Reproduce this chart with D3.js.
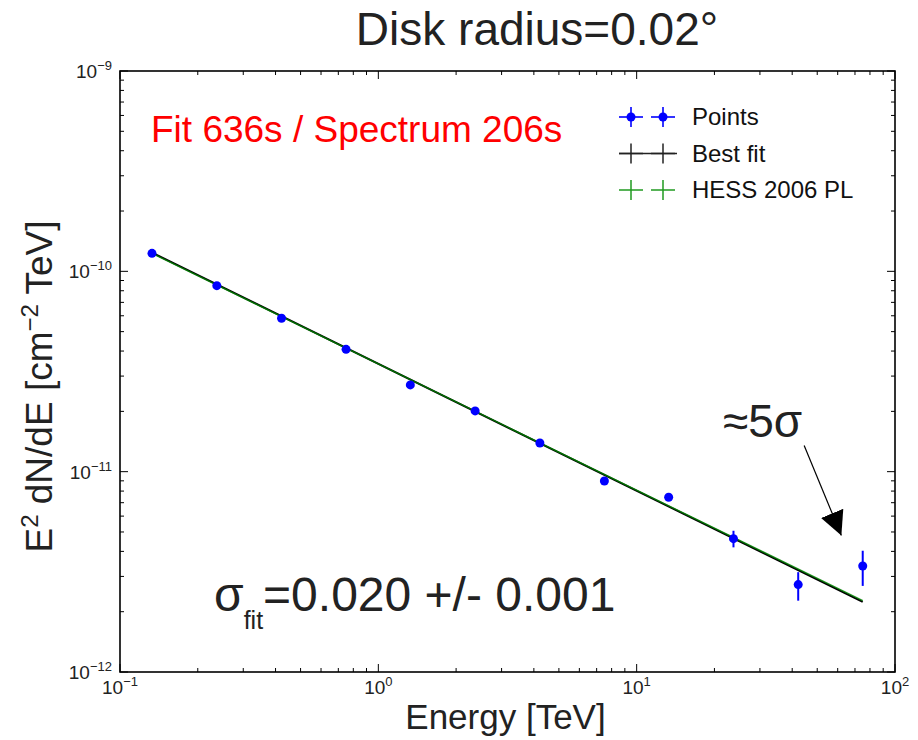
<!DOCTYPE html>
<html>
<head>
<meta charset="utf-8">
<script src="https://cdn.jsdelivr.net/npm/d3@7"></script>
<style>
  body { margin: 0; background: #fff; }
  text { font-family: "Liberation Sans", Arial, sans-serif; }
  .tick-label { font-family: "Liberation Serif", "DejaVu Serif", serif; fill: #222; }
</style>
</head>
<body>
<div id="chart"></div>
<script>
// E^2 dN/dE spectrum, disk radius 0.02 deg
const energy = [0.133, 0.237, 0.422, 0.750, 1.33, 2.37, 4.22, 7.50, 13.3, 23.7, 42.2, 75.0];
const flux = [1.23e-10, 8.48e-11, 5.83e-11, 4.08e-11, 2.71e-11, 2.01e-11, 1.39e-11, 8.98e-12, 7.45e-12, 4.63e-12, 2.73e-12, 3.38e-12];
const fluxErrLo = [1.2e-12, 0.9e-12, 0.6e-12, 0.45e-12, 0.35e-12, 0.3e-12, 0.25e-12, 0.25e-12, 0.3e-12, 0.44e-12, 0.46e-12, 0.69e-12];
const fluxErrHi = [1.2e-12, 0.9e-12, 0.6e-12, 0.45e-12, 0.35e-12, 0.3e-12, 0.25e-12, 0.25e-12, 0.3e-12, 0.44e-12, 0.42e-12, 0.65e-12];

// power-law lines (straight in log-log, so the two end points are enough)
const fitE = [0.133, 75.0];
const bestFitF = [1.24e-10, 2.24e-12];
const hessF = [1.23e-10, 2.27e-12];

const xMajor = [0.1, 1, 10, 100];
const xMajorExp = ['\u22121', '0', '1', '2'];
const yMajor = [1e-9, 1e-10, 1e-11, 1e-12];
const yMajorExp = ['\u22129', '\u221210', '\u221211', '\u221212'];

const legendLabels = ['Points', 'Best fit', 'HESS 2006 PL'];

const margin = { top: 71, right: 23, bottom: 68, left: 120 };
const W = 918, H = 740;
const width = W - margin.left - margin.right;
const height = H - margin.top - margin.bottom;

const root = d3.select('#chart').append('svg').attr('width', W).attr('height', H);
const svg = root.append('g').attr('transform', `translate(${margin.left},${margin.top})`);

const x = d3.scaleLog().domain([0.1, 100]).range([0, width]);
const y = d3.scaleLog().domain([1e-12, 1e-9]).range([height, 0]);

// minor ticks 2..9 of each decade
const minors = (dom) => {
  const out = [];
  const lo = Math.round(Math.log10(dom[0])), hi = Math.round(Math.log10(dom[1]));
  for (let e = lo; e < hi; e++) for (let k = 2; k <= 9; k++) out.push(k * Math.pow(10, e));
  return out;
};
const xMinor = minors(x.domain());
const yMinor = minors(y.domain());

const tickG = svg.append('g').attr('stroke', '#000').attr('stroke-width', 1);
// bottom & top
[[xMajor, 8], [xMinor, 4]].forEach(([vals, len]) => {
  tickG.selectAll(null).data(vals).enter().append('line')
    .attr('x1', d => x(d)).attr('x2', d => x(d)).attr('y1', height).attr('y2', height - len);
  tickG.selectAll(null).data(vals).enter().append('line')
    .attr('x1', d => x(d)).attr('x2', d => x(d)).attr('y1', 0).attr('y2', len);
});
// left & right
[[yMajor, 8], [yMinor, 4]].forEach(([vals, len]) => {
  tickG.selectAll(null).data(vals).enter().append('line')
    .attr('y1', d => y(d)).attr('y2', d => y(d)).attr('x1', 0).attr('x2', len);
  tickG.selectAll(null).data(vals).enter().append('line')
    .attr('y1', d => y(d)).attr('y2', d => y(d)).attr('x1', width).attr('x2', width - len);
});

// frame
svg.append('rect').attr('width', width).attr('height', height)
  .attr('fill', 'none').attr('stroke', '#000').attr('stroke-width', 1.6);

// tick labels: 10^n
const xl = svg.append('g').attr('class', 'tick-label');
xMajor.forEach((v, i) => {
  const t = xl.append('text').attr('x', x(v)).attr('y', height + 22).attr('text-anchor', 'middle')
    .style('font-size', '19px');
  t.append('tspan').text('10');
  t.append('tspan').attr('dy', -8).style('font-size', '13px').text(xMajorExp[i]);
});
const yl = svg.append('g').attr('class', 'tick-label');
yMajor.forEach((v, i) => {
  const t = yl.append('text').attr('x', -8).attr('y', y(v) + 7).attr('text-anchor', 'end')
    .style('font-size', '19px');
  t.append('tspan').text('10');
  t.append('tspan').attr('dy', -8).style('font-size', '13px').text(yMajorExp[i]);
});

// lines
const line = d3.line().x(d => x(d[0])).y(d => y(d[1]));
svg.append('path').datum(d3.zip(fitE, bestFitF)).attr('d', line)
  .attr('fill', 'none').attr('stroke', '#000').attr('stroke-width', 2);
svg.append('path').datum(d3.zip(fitE, hessF)).attr('d', line)
  .attr('fill', 'none').attr('stroke', '#008000').attr('stroke-width', 1.5).attr('stroke-opacity', 0.85);

// points with error bars
const pts = energy.map((e, i) => ({ e, f: flux[i], lo: flux[i] - fluxErrLo[i], hi: flux[i] + fluxErrHi[i] }));
svg.selectAll('line.err').data(pts).enter().append('line').attr('class', 'err')
  .attr('x1', d => x(d.e)).attr('x2', d => x(d.e))
  .attr('y1', d => y(d.lo)).attr('y2', d => y(d.hi))
  .attr('stroke', '#0000ff').attr('stroke-width', 2);
svg.selectAll('circle.pt').data(pts).enter().append('circle').attr('class', 'pt')
  .attr('cx', d => x(d.e)).attr('cy', d => y(d.f)).attr('r', 4.5).attr('fill', '#0000ff');

// legend
const lg = root.append('g').attr('transform', 'translate(619,117)');
const rowH = 36.5;
const mk = [12, 44];
legendLabels.forEach((lab, i) => {
  const g = lg.append('g').attr('transform', `translate(0,${i * rowH})`);
  if (i === 0) {
    mk.forEach(cx => {
      g.append('line').attr('x1', cx - 12).attr('x2', cx + 12).attr('stroke', '#3333ff').attr('stroke-width', 2);
      g.append('line').attr('x1', cx).attr('x2', cx).attr('y1', -10).attr('y2', 10).attr('stroke', '#3333ff').attr('stroke-width', 2);
      g.append('circle').attr('cx', cx).attr('r', 4.5).attr('fill', '#0000ff');
    });
  } else {
    const col = i === 1 ? '#222' : '#1f9a1f';
    if (i === 1) g.append('line').attr('x1', 0).attr('x2', 58).attr('stroke', col).attr('stroke-width', 1.5);
    mk.forEach(cx => {
      g.append('line').attr('x1', cx - 12).attr('x2', cx + 12).attr('stroke', col).attr('stroke-width', 1.5);
      g.append('line').attr('x1', cx).attr('x2', cx).attr('y1', -10).attr('y2', 10).attr('stroke', col).attr('stroke-width', 1.5);
    });
  }
  g.append('text').attr('x', 73).attr('y', 8).style('font-size', '24px').attr('fill', '#111').text(lab);
});

// texts
root.append('text').attr('x', 537).attr('y', 45).attr('text-anchor', 'middle')
  .style('font-size', '46px').attr('fill', '#222').text('Disk radius=0.02\u00b0');
root.append('text').attr('x', 151).attr('y', 142)
  .style('font-size', '37px').attr('fill', '#ff0000').text('Fit 636s / Spectrum 206s');

const sig = root.append('text').attr('x', 214).attr('y', 611).style('font-size', '48px').attr('fill', '#222');
sig.append('tspan').text('\u03c3');
sig.append('tspan').attr('dy', 18).style('font-size', '25px').text('fit');
sig.append('tspan').attr('dy', -18).text('=0.020 +/- 0.001');

// annotation with arrow
root.append('text').attr('x', 723).attr('y', 437).style('font-size', '46px').attr('fill', '#222').text('\u22485\u03c3');
const arrowTail = [44.5, 1.35e-11];
const arrowTip = [62, 4.8e-12];
root.append('defs').append('marker').attr('id', 'ah').attr('viewBox', '0 0 10 10')
  .attr('refX', 10).attr('refY', 5).attr('markerWidth', 24).attr('markerHeight', 24)
  .attr('markerUnits', 'userSpaceOnUse').attr('orient', 'auto')
  .append('path').attr('d', 'M0,0 L10,5 L0,10 z').attr('fill', '#000');
svg.append('line')
  .attr('x1', x(arrowTail[0])).attr('y1', y(arrowTail[1]))
  .attr('x2', x(arrowTip[0])).attr('y2', y(arrowTip[1]))
  .attr('stroke', '#000').attr('stroke-width', 1.2).attr('marker-end', 'url(#ah)');

// axis titles
const yt = root.append('text').attr('transform', `translate(52,${margin.top + height / 2 + 15}) rotate(-90)`)
  .attr('text-anchor', 'middle').style('font-size', '37px').attr('fill', '#222');
yt.append('tspan').text('E');
yt.append('tspan').attr('dy', -14).style('font-size', '24px').text('2');
yt.append('tspan').attr('dy', 14).text(' dN/dE [cm');
yt.append('tspan').attr('dy', -14).style('font-size', '24px').text('\u22122');
yt.append('tspan').attr('dy', 14).text(' TeV]');

root.append('text').attr('x', margin.left + width / 2 - 2).attr('y', 729).attr('text-anchor', 'middle')
  .style('font-size', '35px').attr('fill', '#222').text('Energy [TeV]');
</script>
</body>
</html>
